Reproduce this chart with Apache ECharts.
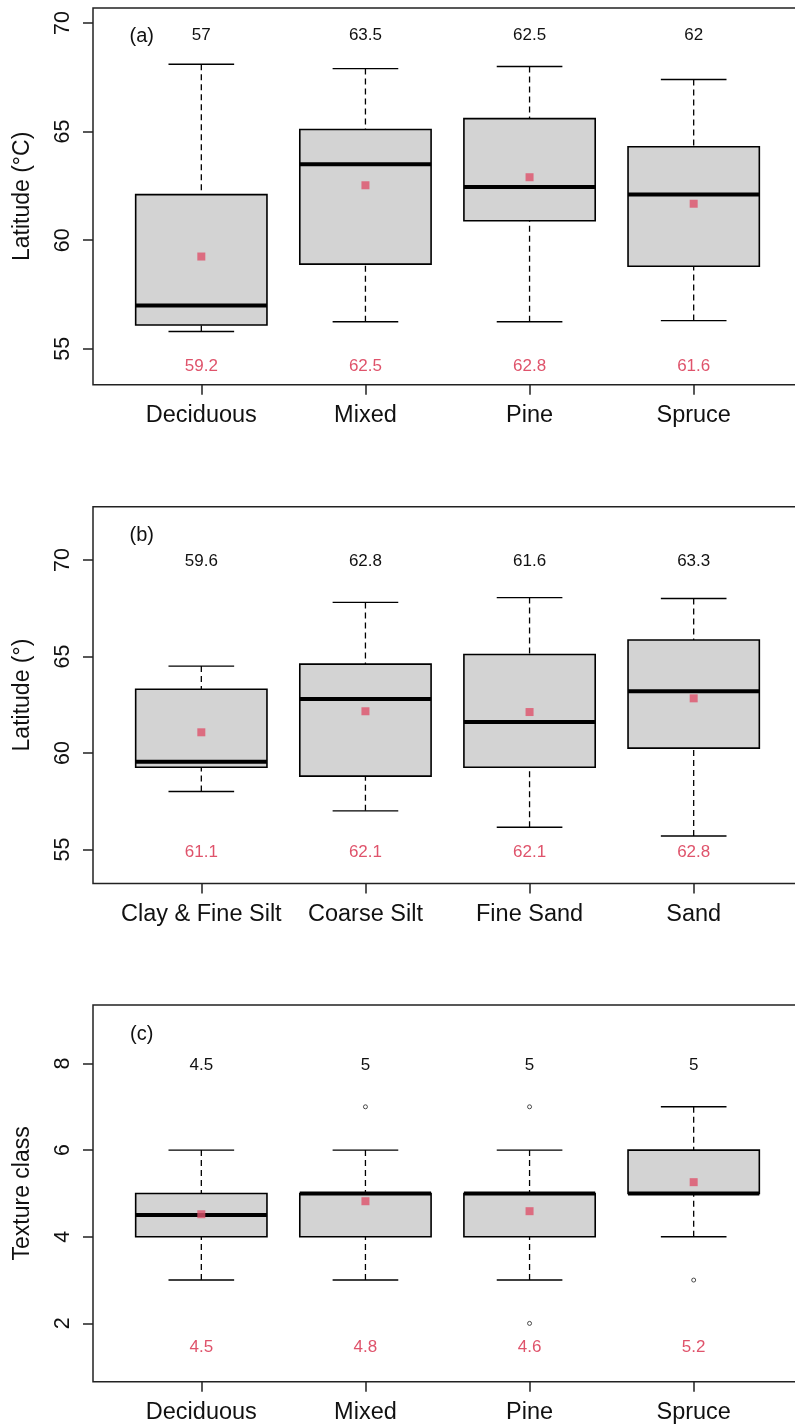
<!DOCTYPE html>
<html>
<head>
<meta charset="utf-8">
<script src="https://cdn.jsdelivr.net/npm/echarts@6/dist/echarts.min.js"></script>
<style>
html,body{margin:0;padding:0;background:#fff;}
#chart{width:795px;height:1425px;}
</style>
</head>
<body>
<div id="chart"></div>
<script>
// ---------- data ----------
const forestTypes = ['Deciduous', 'Mixed', 'Pine', 'Spruce'];
const textureTypes = ['Clay & Fine Silt', 'Coarse Silt', 'Fine Sand', 'Sand'];

// [lowerWhisker, Q1, median, Q3, upperWhisker]
const latForestBoxes = [
  [55.8, 56.1, 57.0, 62.1, 68.1],
  [56.25, 58.9, 63.5, 65.1, 67.9],
  [56.25, 60.9, 62.45, 65.6, 68.0],
  [56.3, 58.8, 62.1, 64.3, 67.4]
];
const latForestMeans = [59.25, 62.53, 62.9, 61.68];
const latForestMedianLabels = ['57', '63.5', '62.5', '62'];
const latForestMeanLabels = ['59.2', '62.5', '62.8', '61.6'];

const latTextureBoxes = [
  [58.0, 59.26, 59.55, 63.3, 64.5],
  [57.0, 58.8, 62.8, 64.6, 67.8],
  [56.15, 59.26, 61.6, 65.1, 68.05],
  [55.7, 60.25, 63.2, 65.85, 68.0]
];
const latTextureMeans = [61.07, 62.16, 62.12, 62.83];
const latTextureMedianLabels = ['59.6', '62.8', '61.6', '63.3'];
const latTextureMeanLabels = ['61.1', '62.1', '62.1', '62.8'];

const texForestBoxes = [
  [3, 4, 4.5, 5, 6],
  [3, 4, 5, 5, 6],
  [3, 4, 5, 5, 6],
  [4, 5, 5, 6, 7]
];
const texForestMeans = [4.52, 4.82, 4.59, 5.26];
const texForestOutliers = [[2, 7], [3, 7], [3, 2], [4, 3]]; // [category index(1-based), value]
const texForestMedianLabels = ['4.5', '5', '5', '5'];
const texForestMeanLabels = ['4.5', '4.8', '4.6', '5.2'];

const latTicks = [55, 60, 65, 70];
const texTicks = [2, 4, 6, 8];

// ---------- styling ----------
const FONT = "'Liberation Sans', Arial, sans-serif";
const PINK = '#DF536B';

const panels = [
  {cats: forestTypes, boxes: latForestBoxes, means: latForestMeans, outliers: [],
   medLab: latForestMedianLabels, meanLab: latForestMeanLabels,
   ymin: 53.35, ymax: 70.69, ticks: latTicks, title: 'Latitude (°C)', tag: '(a)',
   top: 8, topLabY: 69.42, botLabY: 54.2, tagY: 69.37},
  {cats: textureTypes, boxes: latTextureBoxes, means: latTextureMeans, outliers: [],
   medLab: latTextureMedianLabels, meanLab: latTextureMeanLabels,
   ymin: 53.24, ymax: 72.76, ticks: latTicks, title: 'Latitude (°)', tag: '(b)',
   top: 506.7, topLabY: 69.91, botLabY: 54.84, tagY: 71.26},
  {cats: forestTypes, boxes: texForestBoxes, means: texForestMeans, outliers: texForestOutliers,
   medLab: texForestMedianLabels, meanLab: texForestMeanLabels,
   ymin: 0.654, ymax: 9.35, ticks: texTicks, title: 'Texture class', tag: '(c)',
   top: 1005, topLabY: 7.96, botLabY: 1.44, tagY: 8.68}
];

const grids = [], xAxes = [], yAxes = [], series = [];

function renderBox(params, api) {
  const x = api.value(0);
  const lo = api.value(1), q1 = api.value(2), med = api.value(3), q3 = api.value(4), hi = api.value(5);
  const pLo = api.coord([x, lo]);
  const pQ1 = api.coord([x, q1]);
  const pMed = api.coord([x, med]);
  const pQ3 = api.coord([x, q3]);
  const pHi = api.coord([x, hi]);
  const hb = api.size([0.4, 0])[0];
  const hc = api.size([0.2, 0])[0];
  const cx = pMed[0];
  const wStyle = {stroke: '#000', lineWidth: 1.3, lineDash: [6, 4]};
  const cStyle = {stroke: '#000', lineWidth: 1.4};
  return {
    type: 'group',
    children: [
      {type: 'line', shape: {x1: cx, y1: pHi[1], x2: cx, y2: pQ3[1]}, style: wStyle},
      {type: 'line', shape: {x1: cx, y1: pLo[1], x2: cx, y2: pQ1[1]}, style: wStyle},
      {type: 'line', shape: {x1: cx - hc, y1: pHi[1], x2: cx + hc, y2: pHi[1]}, style: cStyle},
      {type: 'line', shape: {x1: cx - hc, y1: pLo[1], x2: cx + hc, y2: pLo[1]}, style: cStyle},
      {type: 'rect', shape: {x: cx - hb, y: pQ3[1], width: 2 * hb, height: pQ1[1] - pQ3[1]},
       style: {fill: '#D3D3D3', stroke: '#000', lineWidth: 1.6}},
      {type: 'line', shape: {x1: cx - hb, y1: pMed[1], x2: cx + hb, y2: pMed[1]},
       style: {stroke: '#000', lineWidth: 4}}
    ]
  };
}

function makeTextRender(color, size) {
  return function (params, api) {
    const p = api.coord([api.value(0), api.value(1)]);
    return {
      type: 'text',
      x: p[0], y: p[1],
      style: {text: String(api.value(2)), fill: color, font: size + 'px ' + FONT,
              textAlign: 'center', textVerticalAlign: 'middle'}
    };
  };
}

panels.forEach((pn, i) => {
  grids.push({left: 93, top: pn.top, width: 709, height: 376.7, show: true,
              outerBoundsMode: 'none', containLabel: false,
              borderColor: '#222', borderWidth: 1.5, backgroundColor: 'transparent'});
  xAxes.push({
    type: 'value', gridIndex: i, min: 0.34, max: 4.66,
    splitLine: {show: false},
    axisLine: {show: false},
    axisTick: {show: true, inside: false, length: 10, lineStyle: {color: '#222', width: 1.5},
               customValues: [1, 2, 3, 4]},
    axisLabel: {show: true, margin: 19, color: '#111', fontSize: 23.5, fontFamily: FONT,
                customValues: [1, 2, 3, 4],
                formatter: (v) => pn.cats[Math.round(v) - 1] || ''}
  });
  yAxes.push({
    type: 'value', gridIndex: i, min: pn.ymin, max: pn.ymax,
    splitLine: {show: false},
    axisLine: {show: false},
    axisTick: {show: true, length: 10, lineStyle: {color: '#222', width: 1.5}, customValues: pn.ticks},
    axisLabel: {show: true, rotate: 90, margin: 19, color: '#111', fontSize: 21.5, fontFamily: FONT,
                customValues: pn.ticks, formatter: (v) => String(v)},
    name: pn.title, nameLocation: 'middle', nameGap: 59, nameRotate: 90,
    nameTextStyle: {color: '#111', fontSize: 23, fontFamily: FONT}
  });

  const boxData = pn.boxes.map((b, k) => [k + 1].concat(b));
  series.push({type: 'custom', xAxisIndex: i, yAxisIndex: i, renderItem: renderBox,
               data: boxData, encode: {x: 0, y: [1, 2, 3, 4, 5]}, z: 2});
  series.push({type: 'scatter', xAxisIndex: i, yAxisIndex: i, symbol: 'rect', symbolSize: 8,
               itemStyle: {color: PINK}, data: pn.means.map((m, k) => [k + 1, m]), z: 5, silent: true});
  if (pn.outliers.length) {
    series.push({type: 'scatter', xAxisIndex: i, yAxisIndex: i, symbol: 'circle', symbolSize: 4,
                 itemStyle: {color: '#fff', borderColor: '#222', borderWidth: 1},
                 data: pn.outliers.map(o => [o[0], o[1]]), z: 5, silent: true});
  }
  series.push({type: 'custom', xAxisIndex: i, yAxisIndex: i, renderItem: makeTextRender('#111', 17),
               data: pn.medLab.map((t, k) => [k + 1, pn.topLabY, t]), z: 6});
  series.push({type: 'custom', xAxisIndex: i, yAxisIndex: i, renderItem: makeTextRender(PINK, 17),
               data: pn.meanLab.map((t, k) => [k + 1, pn.botLabY, t]), z: 6});
  series.push({type: 'custom', xAxisIndex: i, yAxisIndex: i, renderItem: makeTextRender('#111', 20),
               data: [[0.637, pn.tagY, pn.tag]], z: 6});
});

const chart = echarts.init(document.getElementById('chart'), null, {renderer: 'canvas'});
chart.setOption({
  animation: false,
  backgroundColor: '#fff',
  grid: grids,
  xAxis: xAxes,
  yAxis: yAxes,
  series: series
});
</script>
</body>
</html>
